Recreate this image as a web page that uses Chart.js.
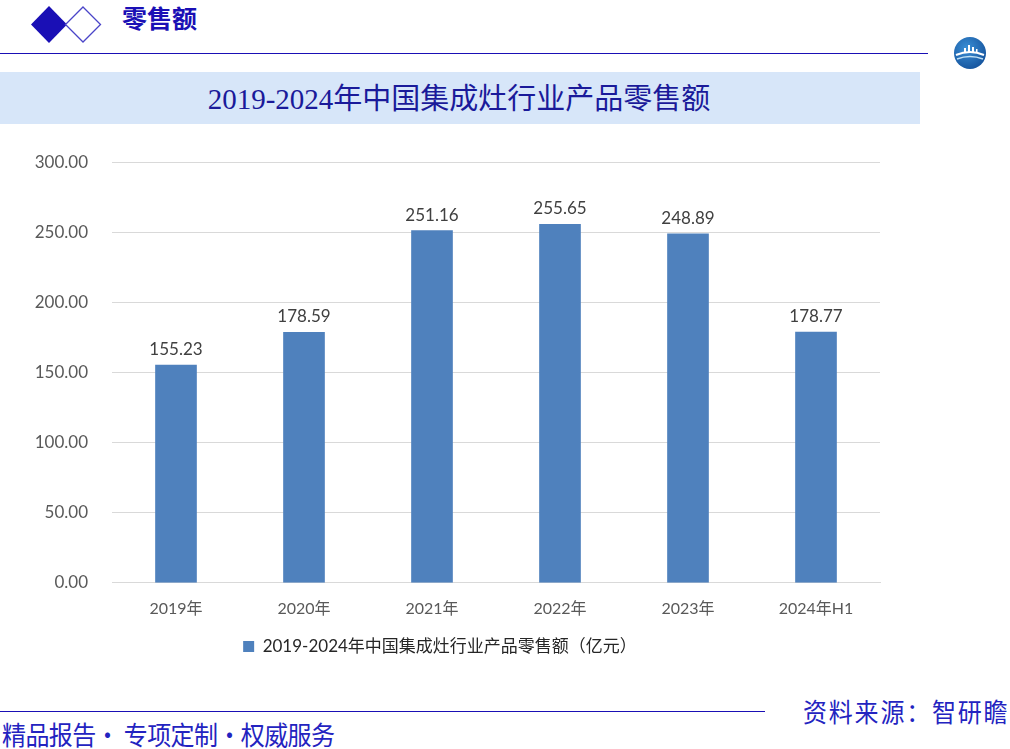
<!DOCTYPE html>
<html>
<head>
<meta charset="utf-8">
<script src="https://cdn.jsdelivr.net/npm/chart.js@4/dist/chart.umd.min.js"></script>
<style>
  body { margin: 0; width: 1010px; height: 749px; background: #fff; position: relative; overflow: hidden; font-family: "Noto Sans CJK SC", sans-serif; }
  .abs { position: absolute; }
  #head-title { left: 122px; top: -1px; font-size: 25px; font-weight: bold; color: #1a0fb5; font-family: "Liberation Serif", "Noto Sans CJK SC", serif; }
  #head-line { left: 0; top: 53px; width: 928px; height: 1px; background: #1a0fb5; }
  #band { left: 0; top: 72px; width: 920px; height: 52px; background: #d7e6f9; }
  #band-title { left: 0; top: 72px; width: 918px; height: 52px; line-height: 54px; text-align: center; font-size: 29px; color: #1a1a9a; font-family: "Liberation Serif", "Noto Sans CJK SC", serif; }
  #foot-line { left: 0; top: 711px; width: 765px; height: 1px; background: #1a0fb5; }
  #foot-left { left: 2px; top: 715px; font-size: 24px; color: #2323c0; letter-spacing: -0.6px; transform: scaleY(1.08); transform-origin: left top; }
  #foot-right { left: 803px; top: 692px; font-size: 24px; color: #2323c0; letter-spacing: 1.8px; transform: scaleY(1.08); transform-origin: left top; }
  #chart-box { left: 0; top: 128px; width: 900px; height: 542px; }
</style>
</head>
<body>
<svg class="abs" style="left:0;top:0" width="110" height="50">
  <polygon points="49,6 67,24.5 49,43 31,24.5" fill="#1a0fb5"/>
  <polygon points="83,7 100.5,24.5 83,42 65.5,24.5" fill="#fff" stroke="#4a44c8" stroke-width="1.3"/>
</svg>
<div class="abs" id="head-title">零售额</div>
<div class="abs" id="head-line"></div>
<svg class="abs" style="left:952px;top:36px" width="36" height="36">
  <defs>
    <radialGradient id="lg" cx="0.4" cy="0.35" r="0.7">
      <stop offset="0" stop-color="#3a8fd6"/>
      <stop offset="1" stop-color="#15539c"/>
    </radialGradient>
  </defs>
  <circle cx="18" cy="17" r="16" fill="url(#lg)"/>
  <path d="M4 19 Q18 13 32 19" stroke="#fff" stroke-width="2" fill="none"/>
  <path d="M5 23 Q18 18 31 23" stroke="#bfe0f5" stroke-width="1.5" fill="none"/>
  <rect x="16" y="9" width="2" height="8" fill="#fff"/>
  <rect x="12" y="12" width="2" height="5" fill="#fff"/>
  <rect x="20" y="11" width="2" height="6" fill="#fff"/>
  <rect x="24" y="13" width="1.5" height="4" fill="#fff"/>
</svg>
<div class="abs" id="band"></div>
<div class="abs" id="band-title">2019-2024年中国集成灶行业产品零售额</div>
<div class="abs" id="chart-box"><canvas id="chart" width="900" height="542"></canvas></div>
<div class="abs" id="foot-line"></div>
<div class="abs" id="foot-left">精品报告· 专项定制·权威服务</div>
<div class="abs" id="foot-right">资料来源：智研瞻</div>
<script>
const years = ['2019年', '2020年', '2021年', '2022年', '2023年', '2024年H1'];
const retailSales = [155.23, 178.59, 251.16, 255.65, 248.89, 178.77];
const seriesLabel = '2019-2024年中国集成灶行业产品零售额（亿元）';

const fontFamily = 'Lato, "Noto Sans CJK SC", sans-serif';

const valueLabels = {
  id: 'valueLabels',
  afterDatasetsDraw(chart) {
    const ctx = chart.ctx;
    ctx.save();
    ctx.font = '17px ' + fontFamily;
    ctx.fillStyle = '#404040';
    ctx.textAlign = 'center';
    ctx.textBaseline = 'bottom';
    chart.getDatasetMeta(0).data.forEach((bar, i) => {
      ctx.fillText(retailSales[i].toFixed(2), bar.x, bar.y - 7);
    });
    ctx.restore();
  }
};

new Chart(document.getElementById('chart'), {
  type: 'bar',
  data: {
    labels: years,
    datasets: [{
      label: seriesLabel,
      data: retailSales,
      backgroundColor: '#4f81bd',
      barThickness: 41,
    }]
  },
  options: {
    responsive: false,
    animation: false,
    // y tick padding (24) also sets the top gap, so the canvas starts higher
    layout: {padding: {left: 0, right: 20, top: 0, bottom: 5}},
    scales: {
      x: {
        grid: {display: false},
        border: {color: '#d9d9d9'},
        ticks: {color: '#595959', font: {family: fontFamily, size: 16}, padding: 8},
      },
      y: {
        min: 0,
        max: 300,
        afterFit: scale => { scale.width = 112; },
        grid: {color: '#d9d9d9', drawTicks: false},
        border: {display: false},
        ticks: {
          stepSize: 50,
          color: '#595959',
          padding: 24,
          font: {family: fontFamily, size: 17},
          callback: v => v.toFixed(2),
        },
      },
    },
    plugins: {
      legend: {
        position: 'bottom',
        labels: {
          color: '#262626',
          font: {family: fontFamily, size: 17},
          boxWidth: 11,
          boxHeight: 11,
          padding: 12,
        }
      },
      tooltip: {enabled: false},
    }
  },
  plugins: [valueLabels]
});
</script>
</body>
</html>
